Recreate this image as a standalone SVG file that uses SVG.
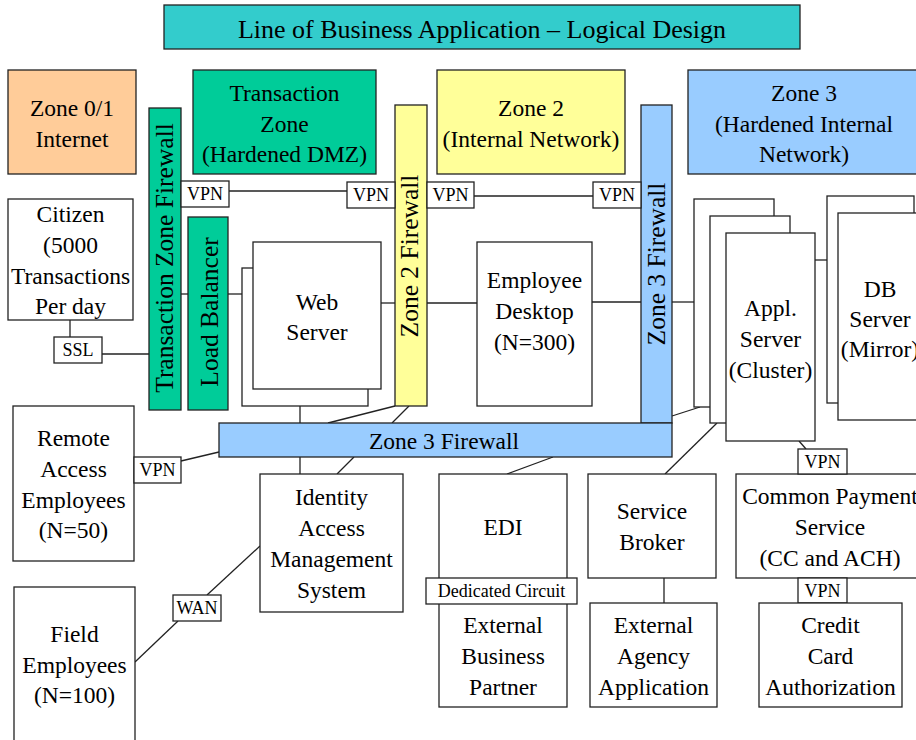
<svg xmlns="http://www.w3.org/2000/svg" width="916" height="740" viewBox="0 0 916 740">
<style>
rect{stroke:#222;stroke-width:1.3}
.w{fill:#fff}
.peach{fill:#FFCC99}
.green{fill:#00CC99}
.yellow{fill:#FFFF99}
.blue{fill:#99CCFF}
.teal{fill:#33CCCC}
text{font-family:"Liberation Serif","Times New Roman",serif;fill:#000;text-anchor:middle}
.t{font-size:23.5px}
.v{font-size:25.5px}
.s{font-size:18px}
.h{font-size:26px}
#connectors line{stroke:#222;stroke-width:1.3}
</style>
<rect width="916" height="740" fill="#fff" style="stroke:none"/>
<g id="title"><rect class="teal" x="164" y="5" width="636" height="44"/><text class="h" x="482" y="38">Line of Business Application – Logical Design</text></g>
<g id="zone01"><rect class="peach" x="8" y="70" width="128" height="104"/><text class="t" x="72" y="116">Zone 0/1</text><text class="t" x="72" y="147">Internet</text></g>
<g id="transactionZone"><rect class="green" x="193" y="70" width="183" height="104"/><text class="t" x="284.5" y="101">Transaction</text><text class="t" x="284.5" y="132">Zone</text><text class="t" x="284.5" y="162">(Hardened DMZ)</text></g>
<g id="zone2"><rect class="yellow" x="437" y="70" width="188" height="104"/><text class="t" x="531" y="116">Zone 2</text><text class="t" x="531" y="147">(Internal Network)</text></g>
<g id="zone3"><rect class="blue" x="688" y="70" width="232" height="104"/><text class="t" x="804" y="101">Zone 3</text><text class="t" x="804" y="132">(Hardened Internal</text><text class="t" x="804" y="162">Network)</text></g>

<g id="connectors">
<line x1="70" y1="320" x2="70" y2="337"/>
<line x1="102" y1="354" x2="149" y2="354"/>
<line x1="181" y1="294" x2="188" y2="294"/>
<line x1="228" y1="294" x2="253" y2="294"/>
<line x1="229" y1="191" x2="347" y2="191"/>
<line x1="474" y1="196" x2="593" y2="196"/>
<line x1="381" y1="303" x2="395" y2="303"/>
<line x1="427" y1="303" x2="477" y2="303"/>
<line x1="592" y1="302" x2="641" y2="302"/>
<line x1="672" y1="302" x2="694" y2="302"/>
<line x1="815" y1="260" x2="827" y2="260"/>
<line x1="300" y1="406" x2="300" y2="423"/>
<line x1="395" y1="406" x2="328" y2="423"/>
<line x1="409" y1="406" x2="392" y2="423"/>
<line x1="300" y1="457" x2="300" y2="474"/>
<line x1="354" y1="457" x2="337" y2="474"/>
<line x1="553" y1="457" x2="507" y2="474"/>
<line x1="219" y1="452" x2="181" y2="461"/>
<line x1="672" y1="416" x2="700" y2="407"/>
<line x1="665" y1="474" x2="717" y2="423"/>
<line x1="799" y1="441" x2="806" y2="449"/>
<line x1="664" y1="578" x2="664" y2="603"/>
<line x1="135" y1="662" x2="178" y2="621"/>
<line x1="207" y1="595" x2="260" y2="546"/>
</g>

<g id="tzFirewall"><rect class="green" x="149" y="108" width="32" height="302"/><text class="v" transform="translate(173,258) rotate(-90)">Transaction Zone Firewall</text></g>
<g id="loadBalancer"><rect class="green" x="188" y="217" width="40" height="193"/><text class="v" transform="translate(218,312) rotate(-90)">Load Balancer</text></g>
<g id="webServer"><rect class="w" x="242" y="268" width="126" height="138"/><rect class="w" x="253" y="242" width="128" height="147"/><text class="t" x="317" y="310">Web</text><text class="t" x="317" y="340">Server</text></g>
<g id="zone2Firewall"><rect class="yellow" x="395" y="105" width="32" height="301"/><text class="v" transform="translate(418,256) rotate(-90)">Zone 2 Firewall</text></g>
<g id="employeeDesktop"><rect class="w" x="477" y="242" width="115" height="164"/><text class="t" x="534.5" y="288">Employee</text><text class="t" x="534.5" y="319">Desktop</text><text class="t" x="534.5" y="350">(N=300)</text></g>
<g id="zone3Firewall"><rect class="blue" x="641" y="105" width="31" height="318"/><rect class="blue" x="219" y="423" width="453" height="34"/><text class="v" transform="translate(665,264) rotate(-90)">Zone 3 Firewall</text><text class="t" x="444" y="449">Zone 3 Firewall</text></g>
<g id="applServer"><rect class="w" x="694" y="199" width="80" height="208"/><rect class="w" x="710" y="216" width="80" height="207"/><rect class="w" x="726" y="233" width="89" height="208"/><text class="t" x="770.5" y="316">Appl.</text><text class="t" x="770.5" y="347">Server</text><text class="t" x="770.5" y="378">(Cluster)</text></g>
<g id="dbServer"><rect class="w" x="827" y="196" width="87" height="207"/><rect class="w" x="838" y="213" width="86" height="207"/><text class="t" x="880" y="297">DB</text><text class="t" x="880" y="327">Server</text><text class="t" x="880" y="357">(Mirror)</text></g>

<g id="vpn1"><rect class="w" x="181" y="181" width="48" height="26"/><text class="s" x="205" y="200">VPN</text></g>
<g id="vpn2"><rect class="w" x="347" y="182" width="48" height="26"/><text class="s" x="371" y="201">VPN</text></g>
<g id="vpn3"><rect class="w" x="427" y="182" width="47" height="26"/><text class="s" x="450.5" y="201">VPN</text></g>
<g id="vpn4"><rect class="w" x="593" y="182" width="48" height="26"/><text class="s" x="617" y="201">VPN</text></g>

<g id="citizen"><rect class="w" x="8" y="199" width="125" height="121"/><text class="t" x="70.5" y="222">Citizen</text><text class="t" x="70.5" y="253">(5000</text><text class="t" x="70.5" y="284">Transactions</text><text class="t" x="70.5" y="314">Per day</text></g>
<g id="ssl"><rect class="w" x="54" y="337" width="48" height="26"/><text class="s" x="78" y="356">SSL</text></g>
<g id="remoteAccess"><rect class="w" x="13" y="406" width="121" height="155"/><text class="t" x="73.5" y="446">Remote</text><text class="t" x="73.5" y="477">Access</text><text class="t" x="73.5" y="508">Employees</text><text class="t" x="73.5" y="538">(N=50)</text></g>
<g id="vpnRemote"><rect class="w" x="134" y="457" width="47" height="26"/><text class="s" x="157.5" y="476">VPN</text></g>
<g id="fieldEmployees"><rect class="w" x="14" y="587" width="121" height="160"/><text class="t" x="74.5" y="642">Field</text><text class="t" x="74.5" y="673">Employees</text><text class="t" x="74.5" y="703">(N=100)</text></g>
<g id="wan"><rect class="w" x="173" y="595" width="48" height="26"/><text class="s" x="197" y="614">WAN</text></g>
<g id="iam"><rect class="w" x="260" y="474" width="143" height="138"/><text class="t" x="331.5" y="505">Identity</text><text class="t" x="331.5" y="536">Access</text><text class="t" x="331.5" y="567">Management</text><text class="t" x="331.5" y="598">System</text></g>
<g id="edi"><rect class="w" x="439" y="474" width="128" height="117"/><text class="t" x="503" y="535">EDI</text></g>
<g id="externalBusinessPartner"><rect class="w" x="439" y="591" width="128" height="116"/><text class="t" x="503" y="633">External</text><text class="t" x="503" y="664">Business</text><text class="t" x="503" y="695">Partner</text></g>
<g id="dedicatedCircuit"><rect class="w" x="426" y="578" width="151" height="26"/><text class="s" x="501.5" y="597">Dedicated Circuit</text></g>
<g id="serviceBroker"><rect class="w" x="588" y="474" width="128" height="104"/><text class="t" x="652" y="519">Service</text><text class="t" x="652" y="550">Broker</text></g>
<g id="externalAgency"><rect class="w" x="590" y="603" width="127" height="104"/><text class="t" x="653.5" y="633">External</text><text class="t" x="653.5" y="664">Agency</text><text class="t" x="653.5" y="695">Application</text></g>
<g id="commonPayment"><rect class="w" x="736" y="474" width="188" height="104"/><text class="t" x="830" y="504">Common Payment</text><text class="t" x="830" y="535">Service</text><text class="t" x="830" y="566">(CC and ACH)</text></g>
<g id="vpnCps1"><rect class="w" x="798" y="449" width="49" height="25"/><text class="s" x="822.5" y="468">VPN</text></g>
<g id="vpnCps2"><rect class="w" x="798" y="578" width="49" height="25"/><text class="s" x="822.5" y="597">VPN</text></g>
<g id="creditCard"><rect class="w" x="759" y="603" width="143" height="104"/><text class="t" x="830.5" y="633">Credit</text><text class="t" x="830.5" y="664">Card</text><text class="t" x="830.5" y="695">Authorization</text></g>
</svg>
